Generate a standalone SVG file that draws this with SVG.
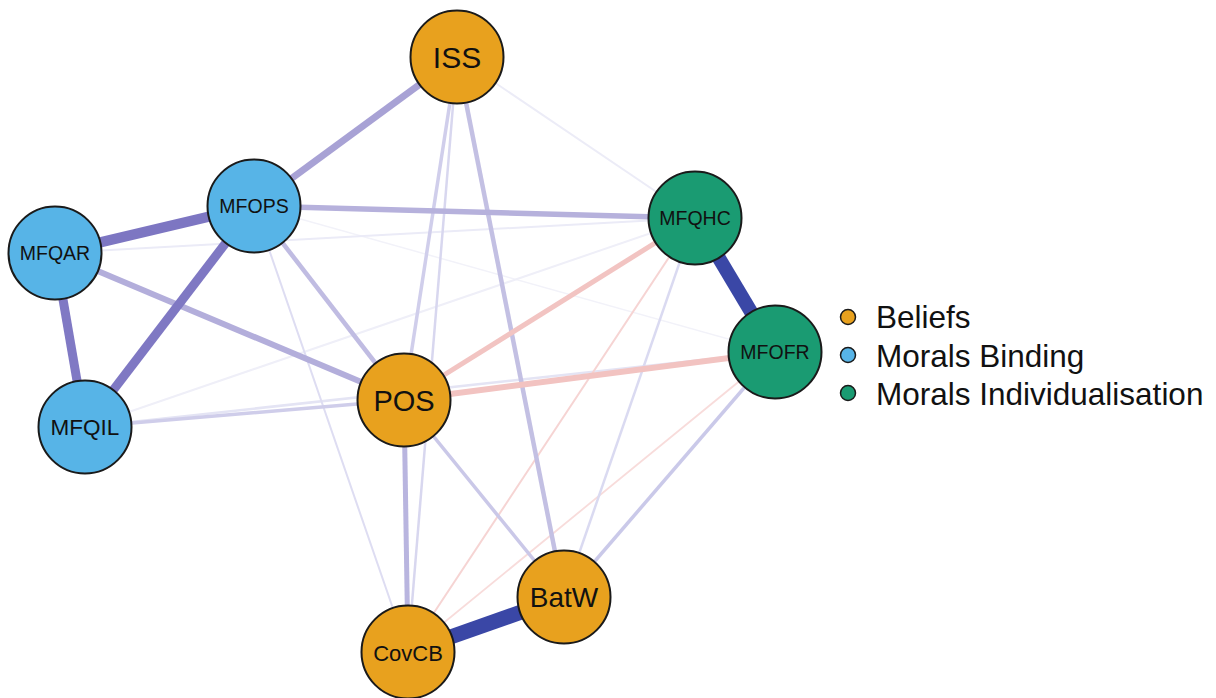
<svg xmlns="http://www.w3.org/2000/svg" width="1216" height="698" viewBox="0 0 1216 698">
  <style>
    .edge { stroke-linecap: butt; fill: none; }
    .node circle { stroke: #1a1a1a; stroke-width: 2; }
    .belief { fill: #E8A11E; }
    .binding { fill: #57B4E7; }
    .indiv { fill: #1A9B72; }
    text { font-family: "Liberation Sans", Arial, Helvetica, sans-serif; fill: #111; }
    .lbl { text-anchor: middle; }
    .leg { font-size: 31.5px; }
  </style>
  <rect x="0" y="0" width="1216" height="698" fill="#ffffff"/>
  <g id="connectors">
    <!-- very faint edges -->
    <line class="edge" x1="254" y1="206" x2="775" y2="352" stroke="#F2F2F9" stroke-width="1.5"/>
    <line class="edge" x1="85" y1="427" x2="695" y2="218" stroke="#EFEFF8" stroke-width="2"/>
    <line class="edge" x1="55" y1="253" x2="695" y2="218" stroke="#EBEBF7" stroke-width="2"/>
    <line class="edge" x1="457" y1="57" x2="695" y2="218" stroke="#ECECF7" stroke-width="2"/>
    <line class="edge" x1="85" y1="427" x2="775" y2="352" stroke="#E4E4F4" stroke-width="2.5"/>
    <line class="edge" x1="408" y1="652" x2="775" y2="352" stroke="#F8DCDB" stroke-width="1.8"/>
    <line class="edge" x1="408" y1="652" x2="695" y2="218" stroke="#F6D4D3" stroke-width="2"/>
    <line class="edge" x1="254" y1="206" x2="408" y2="652" stroke="#DEDDF2" stroke-width="2"/>
    <line class="edge" x1="695" y1="218" x2="564" y2="597" stroke="#DADAF1" stroke-width="2.5"/>
    <line class="edge" x1="457" y1="57" x2="408" y2="652" stroke="#D8D7EF" stroke-width="2.5"/>
    <!-- light edges -->
    <line class="edge" x1="457" y1="57" x2="404" y2="400" stroke="#D0CEEB" stroke-width="3.5"/>
    <line class="edge" x1="85" y1="427" x2="404" y2="400" stroke="#CFCDEA" stroke-width="3.5"/>
    <line class="edge" x1="404" y1="400" x2="564" y2="597" stroke="#CAC8E8" stroke-width="3.5"/>
    <line class="edge" x1="775" y1="352" x2="564" y2="597" stroke="#CAC9E9" stroke-width="3.5"/>
    <line class="edge" x1="457" y1="57" x2="564" y2="597" stroke="#C3C0E3" stroke-width="4.5"/>
    <line class="edge" x1="254" y1="206" x2="404" y2="400" stroke="#C0BCE2" stroke-width="4.5"/>
    <line class="edge" x1="404" y1="400" x2="408" y2="652" stroke="#B9B5DF" stroke-width="5"/>
    <line class="edge" x1="404" y1="400" x2="695" y2="218" stroke="#F2C4C2" stroke-width="5"/>
    <line class="edge" x1="404" y1="400" x2="775" y2="352" stroke="#F2C3C1" stroke-width="6"/>
    <line class="edge" x1="254" y1="206" x2="695" y2="218" stroke="#B6B1DC" stroke-width="5.5"/>
    <line class="edge" x1="55" y1="253" x2="404" y2="400" stroke="#B3AEDB" stroke-width="6"/>
    <line class="edge" x1="457" y1="57" x2="254" y2="206" stroke="#A8A2D5" stroke-width="7"/>
    <!-- strong edges -->
    <line class="edge" x1="55" y1="253" x2="85" y2="427" stroke="#8079C4" stroke-width="9"/>
    <line class="edge" x1="254" y1="206" x2="85" y2="427" stroke="#7F78C3" stroke-width="9"/>
    <line class="edge" x1="254" y1="206" x2="55" y2="253" stroke="#7D76C2" stroke-width="10.5"/>
    <line class="edge" x1="695" y1="218" x2="775" y2="352" stroke="#3A47A6" stroke-width="14"/>
    <line class="edge" x1="408" y1="652" x2="564" y2="597" stroke="#3A47A6" stroke-width="15"/>
  </g>
  <g id="node-ISS" class="node">
    <circle class="belief" cx="457" cy="57" r="46.5"/>
    <text class="lbl" x="457" y="68" font-size="30">ISS</text>
  </g>
  <g id="node-MFOPS" class="node">
    <circle class="binding" cx="254" cy="206" r="46.5"/>
    <text class="lbl" x="254" y="213" font-size="19.5">MFOPS</text>
  </g>
  <g id="node-MFQAR" class="node">
    <circle class="binding" cx="55" cy="253" r="46.5"/>
    <text class="lbl" x="55" y="260" font-size="19.5">MFQAR</text>
  </g>
  <g id="node-MFQIL" class="node">
    <circle class="binding" cx="85" cy="427" r="46.5"/>
    <text class="lbl" x="85" y="435" font-size="22.5">MFQIL</text>
  </g>
  <g id="node-POS" class="node">
    <circle class="belief" cx="404" cy="400" r="46.5"/>
    <text class="lbl" x="404" y="410.5" font-size="29">POS</text>
  </g>
  <g id="node-CovCB" class="node">
    <circle class="belief" cx="408" cy="652" r="46.5"/>
    <text class="lbl" x="408" y="661" font-size="22">CovCB</text>
  </g>
  <g id="node-BatW" class="node">
    <circle class="belief" cx="564" cy="597" r="46.5"/>
    <text class="lbl" x="564" y="607" font-size="28">BatW</text>
  </g>
  <g id="node-MFQHC" class="node">
    <circle class="indiv" cx="695" cy="218" r="46.5"/>
    <text class="lbl" x="695" y="225" font-size="19.5">MFQHC</text>
  </g>
  <g id="node-MFOFR" class="node">
    <circle class="indiv" cx="775" cy="352" r="46.5"/>
    <text class="lbl" x="775" y="359" font-size="19.5">MFOFR</text>
  </g>
  <g id="legend" class="node">
    <circle class="belief" cx="848" cy="317" r="7.5" style="stroke-width:1.5"/>
    <text class="leg" x="876" y="328">Beliefs</text>
    <circle class="binding" cx="848" cy="355" r="7.5" style="stroke-width:1.5"/>
    <text class="leg" x="876" y="366.5">Morals Binding</text>
    <circle class="indiv" cx="848" cy="393" r="7.5" style="stroke-width:1.5"/>
    <text class="leg" x="876" y="405">Morals Individualisation</text>
  </g>
</svg>
